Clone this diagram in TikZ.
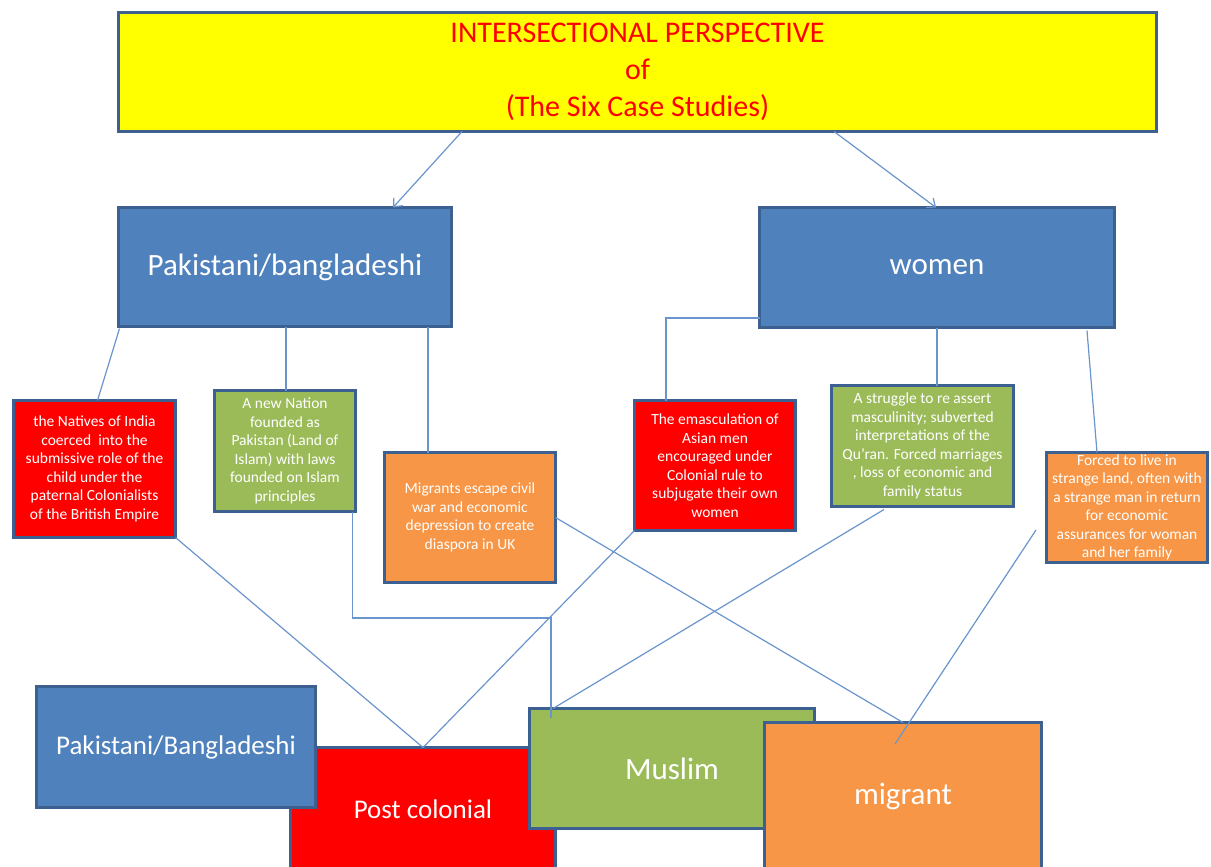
\documentclass[tikz,border=0pt]{standalone}
\usepackage{fontspec}
\setmainfont{Carlito}
\usetikzlibrary{arrows.meta}
\definecolor{bordc}{HTML}{3C6090}
\definecolor{bluef}{HTML}{4F81BD}
\definecolor{redf}{HTML}{FF0000}
\definecolor{greenf}{HTML}{9BBB59}
\definecolor{orangef}{HTML}{F79646}
\definecolor{yellowf}{HTML}{FFFF00}
\definecolor{linec}{HTML}{6A94CC}
\tikzset{
  box/.style={draw=bordc, line width=3pt, rectangle, inner sep=0pt, outer sep=0pt, align=center, text=white},
  small/.style={box, font=\fontsize{15.5}{18.5}\selectfont},
  big/.style={box, font=\fontsize{31}{37}\selectfont},
  mid/.style={box, font=\fontsize{27}{33}\selectfont},
  ln/.style={draw=linec, line width=1.2pt},
  arr/.style={ln, -{Straight Barb[length=7pt,width=12pt,line width=1.2pt]}}
}
\begin{document}
\begin{tikzpicture}[x=1pt,y=-1pt]
\useasboundingbox (0,0) rectangle (1211,867);
% title
\node[box, fill=yellowf, text=redf, minimum width=1038, minimum height=119,
      font=\fontsize{30}{37}\selectfont] (title) at (637.5,72)
  {INTERSECTIONAL PERSPECTIVE\\of\\(The Six Case Studies)};
% second level
\node[big, fill=bluef, minimum width=333, minimum height=119] (pak) at (285,267) {Pakistani/bangladeshi};
\node[big, fill=bluef, minimum width=355, minimum height=120] (wom) at (937,267.5) {women};
% third level
\node[small, fill=redf, minimum width=162, minimum height=137] (r1) at (94.5,469)
  {the Natives of India\\coerced\ \ into the\\submissive role of the\\child under the\\paternal Colonialists\\of the British Empire};
\node[small, fill=greenf, minimum width=141, minimum height=121] (g1) at (285,451)
  {A new Nation\\founded as\\Pakistan (Land of\\Islam) with laws\\founded on Islam\\principles};
\node[small, fill=orangef, minimum width=171, minimum height=130] (o1) at (470,517.5)
  {Migrants escape civil\\war and economic\\depression to create\\diaspora in UK};
\node[small, fill=redf, minimum width=161, minimum height=130] (r2) at (715,465.5)
  {The emasculation of\\Asian men\\encouraged under\\Colonial rule to\\subjugate their own\\women};
\node[small, fill=greenf, minimum width=182, minimum height=121] (g2) at (922.5,446)
  {A struggle to re assert\\masculinity; subverted\\interpretations of the\\Qu’ran. Forced marriages\\, loss of economic and\\family status};
\node[small, fill=orangef, minimum width=161, minimum height=110] (o2) at (1127,507.5)
  {Forced to live in\\strange land, often with\\a strange man in return\\for economic\\assurances for woman\\and her family};
% bottom
\node[mid, fill=redf, minimum width=265, minimum height=123] (post) at (423,809) {Post colonial};
\node[mid, fill=bluef, minimum width=279, minimum height=121] (pakb) at (176,747) {Pakistani/Bangladeshi};
\node[big, fill=greenf, minimum width=285, minimum height=120] (mus) at (672,768.5) {Muslim};
\node[big, fill=orangef, minimum width=277, minimum height=148] (mig) at (903,796.5) {migrant};
% connectors
\draw[arr] ([xshift=-175.5pt]title.south) -- ([xshift=108pt]pak.north);
\draw[arr] ([xshift=196.5pt]title.south) -- ([xshift=-1pt]wom.north);
\draw[ln] ([xshift=1pt,yshift=-2pt]pak.south west) -- ([xshift=84pt]r1.north west);
\draw[ln] ([xshift=1pt]pak.south) -- ([xshift=1pt]g1.north);
\draw[ln] ([xshift=143pt]pak.south) -- ([xshift=143pt]pak.south |- o1.north);
\draw[ln] ([yshift=-50.5pt]wom.west) -| ([xshift=-49pt]r2.north);
\draw[ln] (wom.south) -- (wom.south |- g2.north);
\draw[ln] ([xshift=-27.5pt,yshift=-3pt]wom.south east) -- ([xshift=-30pt]o2.north);
\draw[ln] (r1.south east) -- (post.north);
\draw[ln] (r2.south west) -- (post.north);
\coordinate (gm) at (551,618);
\coordinate (gend) at (551,718);
\draw[ln] ([xshift=-3pt]g1.south east) |- (gm) -- (gend);
\draw[ln] (o1.east) -- (mig.north);
\draw[ln] ([xshift=-38.5pt,yshift=-3pt]g2.south) -- ([xshift=-119pt]mus.north);
\coordinate (o2s) at (1036,530);
\coordinate (mige) at (895,744);
\draw[ln] (o2s) -- (mige);
\end{tikzpicture}
\end{document}
